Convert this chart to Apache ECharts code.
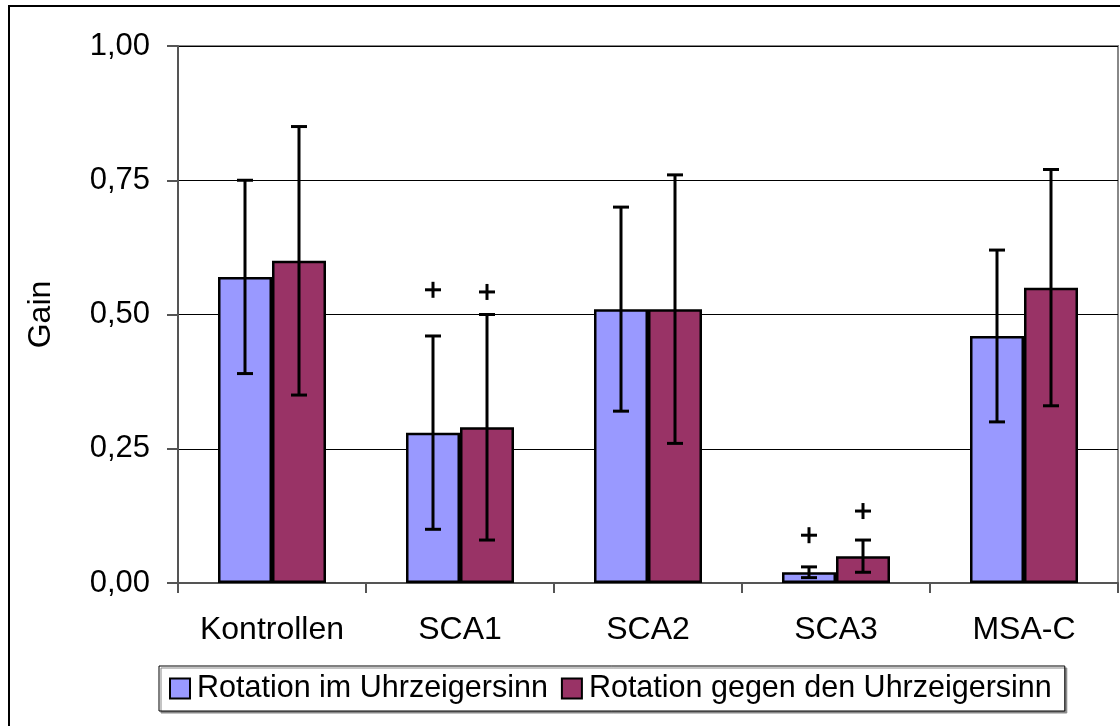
<!DOCTYPE html>
<html>
<head>
<meta charset="utf-8">
<script src="https://cdn.jsdelivr.net/npm/echarts@6/dist/echarts.min.js"></script>
<style>
  html, body { margin: 0; padding: 0; background: #fff; }
  #chart { width: 1120px; height: 726px; }
</style>
</head>
<body>
<div id="chart"></div>
<script>
// Daten
const categories = ["Kontrollen", "SCA1", "SCA2", "SCA3", "MSA-C"];
const seriesNames = ["Rotation im Uhrzeigersinn", "Rotation gegen den Uhrzeigersinn"];

const gainCW = [0.57, 0.28, 0.51, 0.02, 0.46];
const gainCCW = [0.60, 0.29, 0.51, 0.05, 0.55];

// Fehlerbalken (unten / oben)
const errLowCW = [0.39, 0.10, 0.32, 0.01, 0.30];
const errHighCW = [0.75, 0.46, 0.70, 0.03, 0.62];
const errLowCCW = [0.35, 0.08, 0.26, 0.02, 0.33];
const errHighCCW = [0.85, 0.50, 0.76, 0.08, 0.77];

// "+" Markierungen (Signifikanz), null = keine
const plusCW = [null, 0.546, null, 0.089, null];
const plusCCW = [null, 0.542, null, 0.134, null];

const yTicks = [0, 0.25, 0.5, 0.75, 1.0];

const BAR_W = 54;
const colors = ["#9999FF", "#993366"];

const chart = echarts.init(document.getElementById("chart"));

function errorBarSeries(low, high, side) {
    return {
        type: "custom",
        z: 5,
        silent: true,
        renderItem: function (params, api) {
            const i = api.value(0);
            const lo = api.coord([i, api.value(1)]);
            const hi = api.coord([i, api.value(2)]);
            const x = lo[0] + side * BAR_W / 2;
            const cap = 8;
            const style = { stroke: "#000", lineWidth: 3 };
            return {
                type: "group",
                children: [
                    { type: "line", shape: { x1: x, y1: lo[1], x2: x, y2: hi[1] }, style: style },
                    { type: "line", shape: { x1: x - cap, y1: lo[1], x2: x + cap, y2: lo[1] }, style: style },
                    { type: "line", shape: { x1: x - cap, y1: hi[1], x2: x + cap, y2: hi[1] }, style: style }
                ]
            };
        },
        data: categories.map((c, i) => [i, low[i], high[i]])
    };
}

function plusSeries(vals, side) {
    const data = [];
    vals.forEach((v, i) => { if (v !== null) data.push([i, v]); });
    return {
        type: "custom",
        z: 5,
        silent: true,
        renderItem: function (params, api) {
            const p = api.coord([api.value(0), api.value(1)]);
            const x = p[0] + side * BAR_W / 2;
            const h = 8;
            const style = { stroke: "#000", lineWidth: 3 };
            return {
                type: "group",
                children: [
                    { type: "line", shape: { x1: x - h, y1: p[1], x2: x + h, y2: p[1] }, style: style },
                    { type: "line", shape: { x1: x, y1: p[1] - h, x2: x, y2: p[1] + h }, style: style }
                ]
            };
        },
        data: data
    };
}

const option = {
    animation: false,
    backgroundColor: "#fff",
    textStyle: { fontFamily: "Liberation Sans, Arial, sans-serif" },
    graphic: [
        {
            type: "rect",
            z: -10,
            shape: { x: 9, y: 6, width: 1300, height: 900 },
            style: { fill: "none", stroke: "#000", lineWidth: 2 }
        }
    ],
    grid: {
        left: 178,
        top: 46,
        right: 2,
        bottom: 143,
        show: true,
        borderColor: "#888",
        borderWidth: 2
    },
    legend: {
        data: seriesNames,
        left: 159,
        top: 666,
        orient: "horizontal",
        padding: [7, 13, 7, 10],
        itemGap: 13,
        itemWidth: 20,
        itemHeight: 20,
        icon: "rect",
        borderColor: "#000",
        borderWidth: 1,
        shadowColor: "#888",
        shadowOffsetX: 2,
        shadowOffsetY: 2,
        shadowBlur: 0,
        backgroundColor: "#fff",
        itemStyle: { borderColor: "#000", borderWidth: 2 },
        textStyle: { fontSize: 30.5, color: "#000", padding: [0, 0, 0, 2] }
    },
    xAxis: {
        type: "category",
        data: categories,
        axisLine: { lineStyle: { color: "#555", width: 2 } },
        axisTick: { show: true, length: 10, alignWithLabel: false, lineStyle: { color: "#555", width: 2 } },
        axisLabel: { fontSize: 32, color: "#000", margin: 31 }
    },
    yAxis: {
        type: "value",
        min: 0,
        max: 1,
        interval: 0.25,
        name: "Gain",
        nameLocation: "middle",
        nameGap: 121,
        nameTextStyle: { fontSize: 32, color: "#000" },
        axisLine: { show: true, lineStyle: { color: "#555", width: 2 } },
        axisTick: { show: true, length: 11, lineStyle: { color: "#555", width: 2 } },
        axisLabel: {
            fontSize: 31,
            color: "#000",
            margin: 28,
            formatter: function (v) {
                return yTicks.indexOf(v) >= 0 ? v.toFixed(2).replace(".", ",") : "";
            }
        },
        splitLine: { show: true, lineStyle: { color: "#000", width: 1 } }
    },
    series: [
        {
            name: seriesNames[0],
            type: "bar",
            data: gainCW,
            barWidth: BAR_W,
            barGap: "0%",
            itemStyle: { color: colors[0], borderColor: "#000", borderWidth: 2.5 }
        },
        {
            name: seriesNames[1],
            type: "bar",
            data: gainCCW,
            barWidth: BAR_W,
            barGap: "0%",
            itemStyle: { color: colors[1], borderColor: "#000", borderWidth: 2.5 }
        },
        errorBarSeries(errLowCW, errHighCW, -1),
        errorBarSeries(errLowCCW, errHighCCW, 1),
        plusSeries(plusCW, -1),
        plusSeries(plusCCW, 1)
    ]
};

chart.setOption(option);
</script>
</body>
</html>
